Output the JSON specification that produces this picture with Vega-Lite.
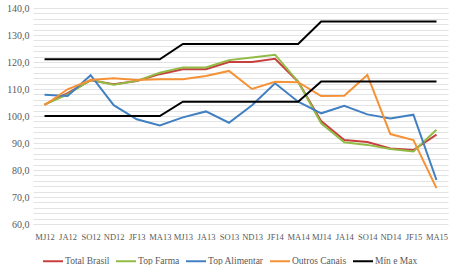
{
  "$schema": "https://vega.github.io/schema/vega-lite/v6.json",
  "width": 415,
  "height": 216,
  "autosize": {"type": "none"},
  "padding": {"left": 33, "top": 8, "right": 6, "bottom": 41},
  "background": "white",
  "config": {
    "view": {"stroke": null},
    "font": "Liberation Sans Narrow",
    "axis": {"labelFont": "Liberation Sans Narrow", "labelColor": "#595959", "labelFontSize": 10},
    "legend": {"labelFont": "Liberation Sans Narrow", "labelColor": "#595959", "labelFontSize": 10}
  },
  "data": {"values": [
    {"m":"MJ12","s":"Total Brasil","d":"a","v":104.2},{"m":"JA12","s":"Total Brasil","d":"a","v":108.5},{"m":"SO12","s":"Total Brasil","d":"a","v":113.2},{"m":"ND12","s":"Total Brasil","d":"a","v":111.8},{"m":"JF13","s":"Total Brasil","d":"a","v":113.0},{"m":"MA13","s":"Total Brasil","d":"a","v":115.5},{"m":"MJ13","s":"Total Brasil","d":"a","v":117.3},{"m":"JA13","s":"Total Brasil","d":"a","v":117.3},{"m":"SO13","s":"Total Brasil","d":"a","v":120.0},{"m":"ND13","s":"Total Brasil","d":"a","v":120.0},{"m":"JF14","s":"Total Brasil","d":"a","v":121.2},{"m":"MA14","s":"Total Brasil","d":"a","v":112.7},{"m":"MJ14","s":"Total Brasil","d":"a","v":98.1},{"m":"JA14","s":"Total Brasil","d":"a","v":91.1},{"m":"SO14","s":"Total Brasil","d":"a","v":90.4},{"m":"ND14","s":"Total Brasil","d":"a","v":88.0},{"m":"JF15","s":"Total Brasil","d":"a","v":87.4},{"m":"MA15","s":"Total Brasil","d":"a","v":93.1},
    {"m":"MJ12","s":"Top Farma","d":"a","v":104.2},{"m":"JA12","s":"Top Farma","d":"a","v":108.0},{"m":"SO12","s":"Top Farma","d":"a","v":113.3},{"m":"ND12","s":"Top Farma","d":"a","v":111.6},{"m":"JF13","s":"Top Farma","d":"a","v":113.0},{"m":"MA13","s":"Top Farma","d":"a","v":116.0},{"m":"MJ13","s":"Top Farma","d":"a","v":118.0},{"m":"JA13","s":"Top Farma","d":"a","v":118.0},{"m":"SO13","s":"Top Farma","d":"a","v":120.7},{"m":"ND13","s":"Top Farma","d":"a","v":121.7},{"m":"JF14","s":"Top Farma","d":"a","v":122.7},{"m":"MA14","s":"Top Farma","d":"a","v":112.7},{"m":"MJ14","s":"Top Farma","d":"a","v":97.3},{"m":"JA14","s":"Top Farma","d":"a","v":90.3},{"m":"SO14","s":"Top Farma","d":"a","v":89.3},{"m":"ND14","s":"Top Farma","d":"a","v":87.8},{"m":"JF15","s":"Top Farma","d":"a","v":86.9},{"m":"MA15","s":"Top Farma","d":"a","v":94.9},
    {"m":"MJ12","s":"Top Alimentar","d":"a","v":107.9},{"m":"JA12","s":"Top Alimentar","d":"a","v":107.4},{"m":"SO12","s":"Top Alimentar","d":"a","v":115.1},{"m":"ND12","s":"Top Alimentar","d":"a","v":104.0},{"m":"JF13","s":"Top Alimentar","d":"a","v":98.8},{"m":"MA13","s":"Top Alimentar","d":"a","v":96.5},{"m":"MJ13","s":"Top Alimentar","d":"a","v":99.5},{"m":"JA13","s":"Top Alimentar","d":"a","v":101.7},{"m":"SO13","s":"Top Alimentar","d":"a","v":97.5},{"m":"ND13","s":"Top Alimentar","d":"a","v":104.0},{"m":"JF14","s":"Top Alimentar","d":"a","v":112.1},{"m":"MA14","s":"Top Alimentar","d":"a","v":105.3},{"m":"MJ14","s":"Top Alimentar","d":"a","v":101.0},{"m":"JA14","s":"Top Alimentar","d":"a","v":103.8},{"m":"SO14","s":"Top Alimentar","d":"a","v":100.6},{"m":"ND14","s":"Top Alimentar","d":"a","v":99.1},{"m":"JF15","s":"Top Alimentar","d":"a","v":100.5},{"m":"MA15","s":"Top Alimentar","d":"a","v":76.3},
    {"m":"MJ12","s":"Outros Canais","d":"a","v":104.0},{"m":"JA12","s":"Outros Canais","d":"a","v":109.9},{"m":"SO12","s":"Outros Canais","d":"a","v":113.3},{"m":"ND12","s":"Outros Canais","d":"a","v":114.0},{"m":"JF13","s":"Outros Canais","d":"a","v":113.3},{"m":"MA13","s":"Outros Canais","d":"a","v":113.6},{"m":"MJ13","s":"Outros Canais","d":"a","v":113.6},{"m":"JA13","s":"Outros Canais","d":"a","v":114.8},{"m":"SO13","s":"Outros Canais","d":"a","v":116.7},{"m":"ND13","s":"Outros Canais","d":"a","v":110.0},{"m":"JF14","s":"Outros Canais","d":"a","v":112.7},{"m":"MA14","s":"Outros Canais","d":"a","v":112.5},{"m":"MJ14","s":"Outros Canais","d":"a","v":107.4},{"m":"JA14","s":"Outros Canais","d":"a","v":107.5},{"m":"SO14","s":"Outros Canais","d":"a","v":115.2},{"m":"ND14","s":"Outros Canais","d":"a","v":93.3},{"m":"JF15","s":"Outros Canais","d":"a","v":91.1},{"m":"MA15","s":"Outros Canais","d":"a","v":73.3},
    {"m":"MJ12","s":"Mín e Max","d":"max","v":121.0},{"m":"JA12","s":"Mín e Max","d":"max","v":121.0},{"m":"SO12","s":"Mín e Max","d":"max","v":121.0},{"m":"ND12","s":"Mín e Max","d":"max","v":121.0},{"m":"JF13","s":"Mín e Max","d":"max","v":121.0},{"m":"MA13","s":"Mín e Max","d":"max","v":121.0},{"m":"MJ13","s":"Mín e Max","d":"max","v":126.7},{"m":"JA13","s":"Mín e Max","d":"max","v":126.7},{"m":"SO13","s":"Mín e Max","d":"max","v":126.7},{"m":"ND13","s":"Mín e Max","d":"max","v":126.7},{"m":"JF14","s":"Mín e Max","d":"max","v":126.7},{"m":"MA14","s":"Mín e Max","d":"max","v":126.7},{"m":"MJ14","s":"Mín e Max","d":"max","v":135.0},{"m":"JA14","s":"Mín e Max","d":"max","v":135.0},{"m":"SO14","s":"Mín e Max","d":"max","v":135.0},{"m":"ND14","s":"Mín e Max","d":"max","v":135.0},{"m":"JF15","s":"Mín e Max","d":"max","v":135.0},{"m":"MA15","s":"Mín e Max","d":"max","v":135.0},
    {"m":"MJ12","s":"Mín e Max","d":"min","v":100.0},{"m":"JA12","s":"Mín e Max","d":"min","v":100.0},{"m":"SO12","s":"Mín e Max","d":"min","v":100.0},{"m":"ND12","s":"Mín e Max","d":"min","v":100.0},{"m":"JF13","s":"Mín e Max","d":"min","v":100.0},{"m":"MA13","s":"Mín e Max","d":"min","v":100.0},{"m":"MJ13","s":"Mín e Max","d":"min","v":105.3},{"m":"JA13","s":"Mín e Max","d":"min","v":105.3},{"m":"SO13","s":"Mín e Max","d":"min","v":105.3},{"m":"ND13","s":"Mín e Max","d":"min","v":105.3},{"m":"JF14","s":"Mín e Max","d":"min","v":105.3},{"m":"MA14","s":"Mín e Max","d":"min","v":105.3},{"m":"MJ14","s":"Mín e Max","d":"min","v":112.8},{"m":"JA14","s":"Mín e Max","d":"min","v":112.8},{"m":"SO14","s":"Mín e Max","d":"min","v":112.8},{"m":"ND14","s":"Mín e Max","d":"min","v":112.8},{"m":"JF15","s":"Mín e Max","d":"min","v":112.8},{"m":"MA15","s":"Mín e Max","d":"min","v":112.8}
  ]},
  "mark": {"type": "line", "strokeWidth": 2},
  "encoding": {
    "x": {
      "field": "m", "type": "ordinal", "sort": null,
      "scale": {"type": "point", "padding": 0.5},
      "axis": {"title": null, "domain": false, "ticks": false, "grid": false, "labelAngle": 0, "labelPadding": 8, "labelFontSize": 8.5}
    },
    "y": {
      "field": "v", "type": "quantitative",
      "scale": {"domain": [60, 140], "nice": false, "zero": false},
      "axis": {
        "title": null, "domain": false, "ticks": false, "labelPadding": 4,
        "values": [60,62,64,66,68,70,72,74,76,78,80,82,84,86,88,90,92,94,96,98,100,102,104,106,108,110,112,114,116,118,120,122,124,126,128,130,132,134,136,138,140],
        "labelExpr": "datum.value % 10 == 0 ? replace(format(datum.value, '.1f'), '.', ',') : ''",
        "gridColor": "#E3E3E3", "gridWidth": 1
      }
    },
    "color": {
      "field": "s", "type": "nominal",
      "scale": {
        "domain": ["Total Brasil", "Top Farma", "Top Alimentar", "Outros Canais", "Mín e Max"],
        "range": ["#C8403D", "#92BB45", "#4280C2", "#F59235", "#000000"]
      },
      "legend": {
        "title": null, "orient": "none", "direction": "horizontal", "columns": 5,
        "legendX": 9, "legendY": 242,
        "symbolType": "stroke", "symbolSize": 400, "symbolStrokeWidth": 2,
        "labelOffset": 1, "columnPadding": 2, "labelFontSize": 9.5
      }
    },
    "detail": {"field": "d", "type": "nominal"},
    "strokeWidth": {"condition": {"test": "datum.s === 'Mín e Max'", "value": 2.5}, "value": 2}
  }
}
